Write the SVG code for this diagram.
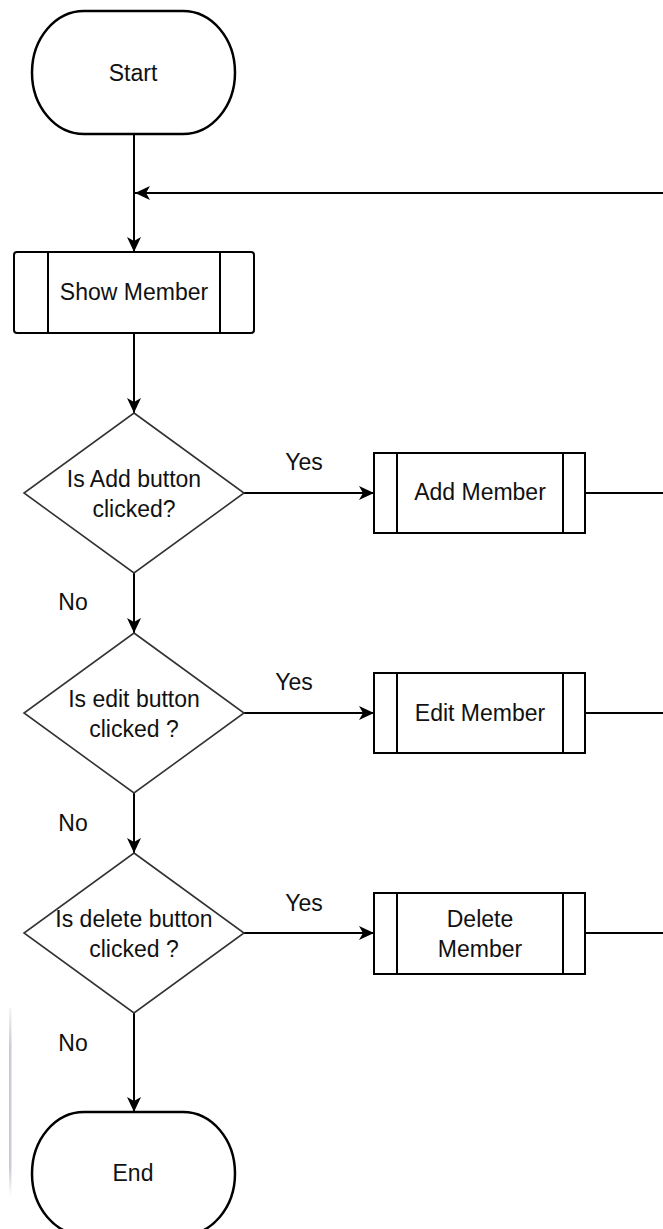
<svg xmlns="http://www.w3.org/2000/svg" width="663" height="1229" viewBox="0 0 663 1229">
<style>
.term{fill:#fff;stroke:#000;stroke-width:2.5}
.proc{fill:#fff;stroke:#000;stroke-width:2}
.dec{fill:#fff;stroke:#333;stroke-width:1.6}
.edge{fill:none;stroke:#000;stroke-width:2}
text{font-family:"Liberation Sans",Arial,sans-serif;font-size:23px;fill:#111}
.c{text-anchor:middle}
</style>
<defs>
<marker id="arr" markerUnits="userSpaceOnUse" markerWidth="16" markerHeight="14" refX="15" refY="7" orient="auto">
<path d="M0,0 L15,7 L0,14 L4,7 Z" fill="#000"/>
</marker>
<linearGradient id="fade" x1="0" y1="0" x2="0" y2="1">
<stop offset="0" stop-color="#c9ccd6" stop-opacity="0.2"/>
<stop offset="0.2" stop-color="#c9ccd6"/>
<stop offset="0.85" stop-color="#c9ccd6"/>
<stop offset="1" stop-color="#c9ccd6" stop-opacity="0"/>
</linearGradient>
</defs>
<rect x="9" y="1008" width="2.5" height="188" fill="url(#fade)"/>
<g id="connectors">
<line class="edge" x1="134" y1="134" x2="134" y2="252" marker-end="url(#arr)"/>
<line class="edge" x1="670" y1="193" x2="135" y2="193" marker-end="url(#arr)"/>
<line class="edge" x1="134" y1="333" x2="134" y2="413" marker-end="url(#arr)"/>
<line class="edge" x1="244" y1="493" x2="374" y2="493" marker-end="url(#arr)"/>
<line class="edge" x1="585" y1="493" x2="670" y2="493"/>
<line class="edge" x1="134" y1="573" x2="134" y2="633" marker-end="url(#arr)"/>
<line class="edge" x1="244" y1="713" x2="374" y2="713" marker-end="url(#arr)"/>
<line class="edge" x1="585" y1="713" x2="670" y2="713"/>
<line class="edge" x1="134" y1="793" x2="134" y2="853" marker-end="url(#arr)"/>
<line class="edge" x1="244" y1="933" x2="374" y2="933" marker-end="url(#arr)"/>
<line class="edge" x1="585" y1="933" x2="670" y2="933"/>
<line class="edge" x1="134" y1="1013" x2="134" y2="1112" marker-end="url(#arr)"/>
<text x="304" y="470" class="c">Yes</text>
<text x="294" y="690" class="c">Yes</text>
<text x="304" y="911" class="c">Yes</text>
<text x="73" y="610" class="c">No</text>
<text x="73" y="831" class="c">No</text>
<text x="73" y="1051" class="c">No</text>
</g>
<g id="start">
<rect class="term" x="32" y="11" width="203" height="123" rx="52" ry="61.5"/>
<text x="133" y="81" class="c">Start</text>
</g>
<g id="show-member">
<rect class="proc" x="14" y="252" width="240" height="81" rx="3"/>
<line class="proc" x1="48" y1="252" x2="48" y2="333"/>
<line class="proc" x1="220" y1="252" x2="220" y2="333"/>
<text x="134" y="300" class="c">Show Member</text>
</g>
<g id="is-add">
<polygon class="dec" points="134,413 244,493 134,573 24,493"/>
<text x="134" y="487" class="c">Is Add button</text>
<text x="134" y="517" class="c">clicked?</text>
</g>
<g id="add-member">
<rect class="proc" x="374" y="453" width="211" height="80"/>
<line class="proc" x1="397" y1="453" x2="397" y2="533"/>
<line class="proc" x1="563" y1="453" x2="563" y2="533"/>
<text x="480" y="500" class="c">Add Member</text>
</g>
<g id="is-edit">
<polygon class="dec" points="134,633 244,713 134,793 24,713"/>
<text x="134" y="707" class="c">Is edit button</text>
<text x="134" y="737" class="c">clicked ?</text>
</g>
<g id="edit-member">
<rect class="proc" x="374" y="673" width="211" height="80"/>
<line class="proc" x1="397" y1="673" x2="397" y2="753"/>
<line class="proc" x1="563" y1="673" x2="563" y2="753"/>
<text x="480" y="721" class="c">Edit Member</text>
</g>
<g id="is-delete">
<polygon class="dec" points="134,853 244,933 134,1013 24,933"/>
<text x="134" y="927" class="c">Is delete button</text>
<text x="134" y="957" class="c">clicked ?</text>
</g>
<g id="delete-member">
<rect class="proc" x="374" y="893" width="211" height="81"/>
<line class="proc" x1="397" y1="893" x2="397" y2="974"/>
<line class="proc" x1="563" y1="893" x2="563" y2="974"/>
<text x="480" y="927" class="c">Delete</text>
<text x="480" y="957" class="c">Member</text>
</g>
<g id="end">
<rect class="term" x="32" y="1112" width="203" height="123" rx="52" ry="61.5"/>
<text x="133" y="1181" class="c">End</text>
</g>
</svg>
